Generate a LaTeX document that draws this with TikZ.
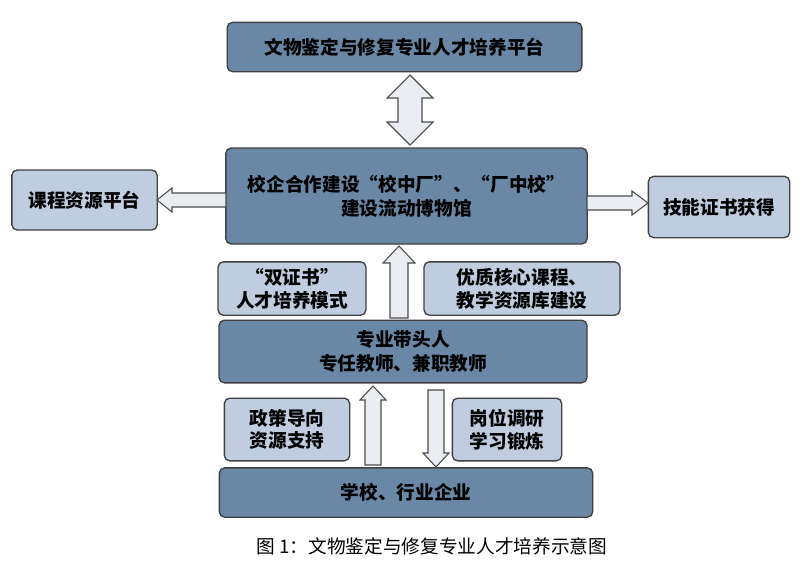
\documentclass[tikz,border=0pt]{standalone}
\usepackage{fontspec}
\newfontfamily\cjk{Noto Sans CJK SC}
\newfontfamily\cjkserif{Noto Sans CJK SC}[FakeBold=0]
\usepackage{tikz}
\definecolor{darkbox}{RGB}{106,136,166}
\definecolor{lightbox}{RGB}{192,205,224}
\definecolor{arrowfill}{RGB}{234,238,242}
\tikzset{
  bigbox/.style={draw=black!75,line width=1pt,fill=darkbox,rounded corners=4pt,align=center,font=\cjk\bfseries\fontsize{14}{18}\selectfont,inner sep=0pt},
  smallbox/.style={draw=black!75,line width=1pt,fill=lightbox,rounded corners=4pt,align=center,font=\cjk\bfseries\fontsize{14}{17}\selectfont,inner sep=0pt},
  blockarrow/.style={draw=black!70,line width=0.8pt,fill=arrowfill}
}
\begin{document}
\begin{tikzpicture}[x=0.75pt,y=0.75pt,yscale=-1,xscale=1]
        \useasboundingbox (0,0) rectangle (803,572);
        \fill[white] (0,0) rectangle (803,572);
        % boxes
        \node[bigbox,minimum width=266pt,minimum height=37pt] (platform) at (404.5,47) {文物鉴定与修复专业人才培养平台};
        \node[bigbox,minimum width=271pt,minimum height=72pt] (coop) at (406.5,196) {校企合作建设“校中厂”、“厂中校”\\建设流动博物馆};
        \node[smallbox,minimum width=109pt,minimum height=45pt] (course) at (84.5,200) {课程资源平台};
        \node[smallbox,minimum width=106pt,minimum height=46pt] (skill) at (719,207) {技能证书获得};
        \node[smallbox,minimum width=111pt,minimum height=40pt] (dual) at (292,288.5) {“双证书”\\人才培养模式};
        \node[smallbox,minimum width=147pt,minimum height=40pt] (quality) at (522,288.5) {优质核心课程、\\教学资源库建设};
        \node[bigbox,minimum width=276pt,minimum height=47pt] (leader) at (403,351.5) {专业带头人\\专任教师、兼职教师};
        \node[smallbox,minimum width=94pt,minimum height=47pt] (policy) at (287,429.5) {政策导向\\资源支持};
        \node[smallbox,minimum width=82pt,minimum height=47pt] (post) at (507,429.5) {岗位调研\\学习锻炼};
        \node[bigbox,minimum width=280pt,minimum height=37pt] (school) at (406,492.5) {学校、行业企业};
        % block arrows
        \draw[blockarrow] (410,75) -- (433,98) -- (422,98) -- (422,122) -- (433,122) -- (410,145) -- (387,122) -- (398,122) -- (398,98) -- (387,98) -- cycle;
        \draw[blockarrow] (226,193) -- (172,193) -- (172,188) -- (157,200) -- (172,212) -- (172,207) -- (226,207) -- cycle;
        \draw[blockarrow] (587,196) -- (632,196) -- (632,191) -- (648,203) -- (632,215) -- (632,210) -- (587,210) -- cycle;
        \draw[blockarrow] (399,246) -- (415,263) -- (408,263) -- (408,318) -- (390,318) -- (390,263) -- (383,263) -- cycle;
        \draw[blockarrow] (373,386) -- (386,400) -- (381,400) -- (381,465) -- (365,465) -- (365,400) -- (360,400) -- cycle;
        \draw[blockarrow] (436,467) -- (449,453) -- (444,453) -- (444,390) -- (428,390) -- (428,453) -- (423,453) -- cycle;
        % caption
        \node[font=\cjk\fontsize{14}{16}\selectfont] (caption) at (432,546) {图 1：文物鉴定与修复专业人才培养示意图};
    \end{tikzpicture}
\end{document}
